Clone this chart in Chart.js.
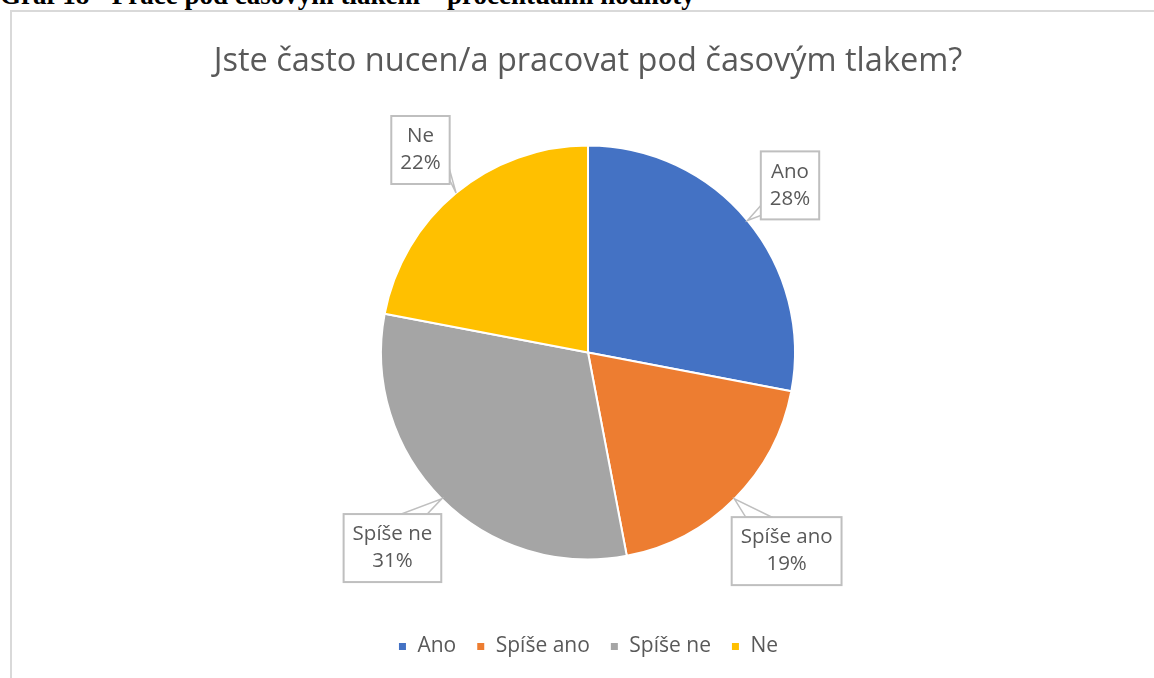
<!DOCTYPE html>
<html>
<head>
<meta charset="utf-8">
<script src="https://cdn.jsdelivr.net/npm/chart.js@4.4.1/dist/chart.umd.min.js"></script>
<style>
  html, body { margin:0; padding:0; background:#fff; overflow:hidden; width:1154px; height:678px; }
  #cap { position:absolute; left:0; top:-18px; font:bold 27px/27px "Liberation Serif","Times New Roman",serif; color:#000; white-space:nowrap; }
  #frame { position:absolute; left:10px; top:10px; width:1200px; height:700px; border:2px solid #d9d9d9; box-sizing:border-box; }
  #wrap { position:absolute; left:11px; top:12px; width:1154px; height:666px; }
</style>
</head>
<body>
<div id="cap">Graf 18 - Práce pod časovým tlakem – procentuální hodnoty</div>
<div id="frame"></div>
<div id="wrap"><canvas id="c"></canvas></div>
<script>
// data
const categories = ['Ano', 'Spíše ano', 'Spíše ne', 'Ne'];
const percents = [28, 19, 31, 22];
const colors = ['#4472C4', '#ED7D31', '#A5A5A5', '#FFC000'];
const chartTitle = 'Jste často nucen/a pracovat pod časovým tlakem?';

// popisky ve "bublinách" s odkazovou čárou k výseči
const calloutLabels = {
  id: 'calloutLabels',
  afterDatasetsDraw(chart, args, opts) {
    const ctx = chart.ctx;
    const meta = chart.getDatasetMeta(0);
    ctx.save();
    ctx.font = opts.font;
    meta.data.forEach((arc, i) => {
      const p = arc.getProps(['x', 'y', 'startAngle', 'endAngle', 'outerRadius'], true);
      const mid = (p.startAngle + p.endAngle) / 2;
      const cos = Math.cos(mid), sin = Math.sin(mid);
      const lines = [categories[i], percents[i] + '%'];
      const tw = Math.max(...lines.map(t => ctx.measureText(t).width));
      const w = tw + 2 * opts.padX, h = opts.lineH * 2 + 2 * opts.padY;
      const d = p.outerRadius + opts.gap + Math.abs(w / 2 * cos) + Math.abs(h / 2 * sin);
      const cx = p.x + d * cos, cy = p.y + d * sin;
      const bx = cx - w / 2, by = cy - h / 2;
      const tx = p.x + p.outerRadius * cos, ty = p.y + p.outerRadius * sin;
      const kx = cos > 0 ? bx : bx + w, ky = sin > 0 ? by : by + h;
      // klín
      ctx.beginPath();
      ctx.moveTo(tx, ty);
      if (sin > 0) { ctx.lineTo(kx + (cos > 0 ? 14 : -14), ky); ctx.lineTo(kx + (cos > 0 ? 40 : -40), ky); }
      else { ctx.lineTo(kx, ky - 14); ctx.lineTo(kx, ky - 4); }
      ctx.closePath();
      ctx.fillStyle = '#fff'; ctx.fill();
      ctx.strokeStyle = opts.borderColor; ctx.lineWidth = 1.5; ctx.stroke();
      // box
      ctx.fillStyle = '#fff';
      ctx.fillRect(bx, by, w, h);
      ctx.lineWidth = 2;
      ctx.strokeRect(bx, by, w, h);
      ctx.fillStyle = opts.color;
      ctx.textAlign = 'center';
      ctx.textBaseline = 'middle';
      ctx.fillText(lines[0], cx, cy - opts.lineH / 2);
      ctx.fillText(lines[1], cx, cy + opts.lineH / 2);
    });
    ctx.restore();
  }
};

new Chart(document.getElementById('c'), {
  type: 'pie',
  data: {
    labels: categories,
    datasets: [{ data: percents, backgroundColor: colors, borderColor: '#fff', borderWidth: 2, radius: 207, hoverOffset: 0 }]
  },
  options: {
    responsive: true, maintainAspectRatio: false, animation: false,
    layout: { padding: { top: 0, bottom: 11, left: 0, right: 0 } },
    plugins: {
      title: { display: true, text: chartTitle, color: '#595959', font: { family: 'Open Sans', size: 32.5, weight: 'normal' }, padding: { top: 30, bottom: 8 } },
      legend: { position: 'bottom', labels: { color: '#595959', font: { family: 'Open Sans', size: 21 }, boxWidth: 9, boxHeight: 9, padding: 20 } },
      tooltip: { enabled: false },
      calloutLabels: { font: '20.5px "Open Sans"', color: '#595959', borderColor: '#bfbfbf', padX: 9, padY: 7, lineH: 27, gap: 11 }
    }
  },
  plugins: [calloutLabels]
});
</script>
</body>
</html>
